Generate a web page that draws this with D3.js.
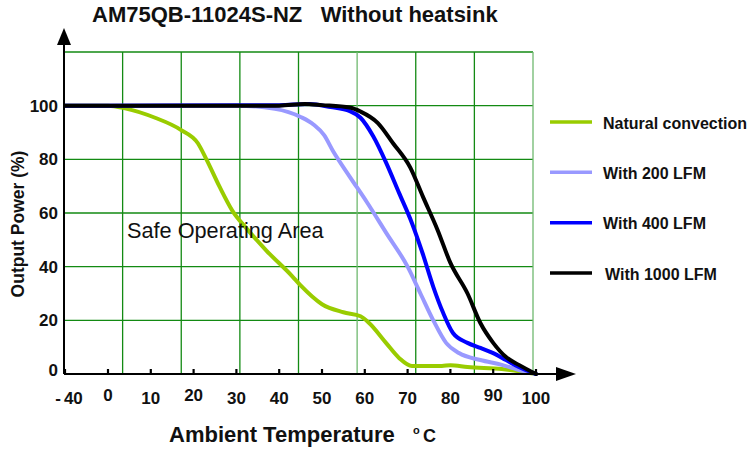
<!DOCTYPE html>
<html><head><meta charset="utf-8">
<script src="https://cdn.jsdelivr.net/npm/d3@7"></script>
<style>
body{margin:0;background:#fff}
svg{display:block;font-family:"Liberation Sans",Arial,Helvetica,sans-serif}
</style>
</head><body>
<svg id="chart" width="749" height="450"></svg>
<script>
const chartTitle = "AM75QB-11024S-NZ   Without heatsink";
const xTickValues = [-40, 0, 10, 20, 30, 40, 50, 60, 70, 80, 90, 100];
const xTickLabels = ["-40", "0", "10", "20", "30", "40", "50", "60", "70", "80", "90", "100"];
const yTickValues = [0, 20, 40, 60, 80, 100];
const yTickLabels = ["0", "20", "40", "60", "80", "100"];
const gridRowValues = [20, 40, 60, 80, 100, 120];
const gridColumnIndex = [1, 2, 3, 4, 5, 6, 7, 8];
const seriesNames = ["Natural convection", "With 200 LFM", "With 400 LFM", "With 1000 LFM"];
const seriesColors = ["#99cc00", "#9999ff", "#0000ff", "#000000"];

const naturalConvection = [[-40,100],[0,100],[4,99],[11,95.5],[17,91],[21,86],[23,80],[26,70],[29,61],[32.5,54],[37,46],[43,36.5],[45,33],[50,26],[55,23],[59,21.5],[61,19],[65,11.5],[68,6],[71,3],[78,3],[80,3.3],[84,2.6],[92,1.9],[100,0]];
const with200LFM = [[-40,100],[0,100],[30,100],[39,98.8],[45,95.8],[48,93],[50.5,89],[52.6,83],[56.5,73.5],[60.5,64],[65,52.6],[70,40],[73,30],[76,20],[79,11.6],[82,7.8],[87,5.2],[92,3.4],[96,1.5],[100,0]];
const with400LFM = [[-40,100],[0,100],[40,100.2],[47,100.6],[52,99.5],[56.5,98],[59,95.5],[62,88.5],[65,78.7],[68,67.5],[71,56.3],[73.5,45],[76,32.5],[78.3,22.8],[80.6,15.3],[84,11.6],[87,9.7],[90,7.8],[93,5.2],[96,2.6],[100,0]];
const with1000LFM = [[-40,100],[0,100],[40,100],[46,100.6],[50,100.2],[56.5,99.3],[59,97.8],[63,93.6],[66.6,86],[70.6,77],[73.6,66],[77,53.7],[80,41.4],[84,30],[87,19],[90,11.6],[93,6.3],[96,3.4],[100,0]];
const seriesData = [naturalConvection, with200LFM, with400LFM, with1000LFM];

const svg = d3.select("#chart");

// scales
const x = d3.scaleLinear().domain([-40, 0, 100]).range([65, 108, 536]);
const y = d3.scaleLinear().domain([0, 120]).range([374, 52]);
const gx = d3.scaleLinear().domain([0, 8]).range([64, 533]);
const legendY = d3.scaleLinear().domain([0, 3]).range([122, 273]);

// grid
const grid = svg.append("g").attr("stroke", "#138a13").attr("stroke-width", 1.3);
grid.selectAll("line.h").data(gridRowValues).join("line")
  .attr("x1", gx(0)).attr("x2", gx(8))
  .attr("y1", d => y(d)).attr("y2", d => y(d));
grid.selectAll("line.v").data(gridColumnIndex).join("line")
  .attr("x1", d => gx(d)).attr("x2", d => gx(d))
  .attr("y1", y(0)).attr("y2", y(120))
  .attr("stroke", d => (d === 5 || d === 8) ? "#6fb86f" : "#138a13");

// curves
const line = d3.line().x(d => x(d[0])).y(d => y(d[1])).curve(d3.curveMonotoneX);
svg.append("g").selectAll("path").data(seriesData).join("path")
  .attr("d", line)
  .attr("fill", "none")
  .attr("stroke", (d, i) => seriesColors[i])
  .attr("stroke-width", 4)
  .attr("stroke-linejoin", "round")
  .attr("stroke-linecap", "round");

// axes lines + arrows
const axes = svg.append("g");
axes.append("line").attr("x1", 64).attr("x2", 64).attr("y1", y(0)).attr("y2", 44)
  .attr("stroke", "#000").attr("stroke-width", 2);
axes.append("path").attr("d", "M64,28 L57,45 L71,45 Z").attr("fill", "#000");
axes.append("line").attr("x1", 64).attr("x2", 558).attr("y1", y(0)).attr("y2", y(0))
  .attr("stroke", "#000").attr("stroke-width", 2);
axes.append("path").attr("d", `M576,${y(0)} L556,${y(0)-7} L556,${y(0)+7} Z`).attr("fill", "#000");

// x ticks
axes.selectAll("line.xt").data(xTickValues).join("line")
  .attr("x1", d => x(d)).attr("x2", d => x(d))
  .attr("y1", y(0)).attr("y2", y(0) - 5)
  .attr("stroke", "#000").attr("stroke-width", 2.2);
const xl = axes.selectAll("text.xl").data(xTickValues).join("text")
  .attr("x", d => x(d) + (d === -40 ? 4 : 0))
  .attr("y", d => (d === 0 || d === 20 || d === 90) ? 401 : 404)
  .attr("text-anchor", "middle")
  .attr("font-size", 17).attr("font-weight", "bold").attr("fill", "#111");
xl.each(function(d, i) {
  const t = d3.select(this);
  const s = xTickLabels[i];
  if (s.startsWith("-")) {
    t.append("tspan").text("-");
    t.append("tspan").attr("dx", 3).text(s.slice(1));
  } else {
    t.text(s);
  }
});

// y labels
axes.selectAll("text.yl").data(yTickValues).join("text")
  .attr("x", 58)
  .attr("y", d => y(d) + (d === 0 ? -4 : 0))
  .attr("dy", "0.35em")
  .attr("text-anchor", "end")
  .attr("font-size", 17).attr("font-weight", "bold").attr("fill", "#111")
  .text((d, i) => yTickLabels[i]);

// title
svg.append("text").attr("x", 92).attr("y", 22)
  .attr("font-size", 22).attr("font-weight", "bold").attr("fill", "#111")
  .style("white-space", "pre")
  .text(chartTitle);

// axis titles
svg.append("text")
  .attr("transform", "translate(24,224) rotate(-90)")
  .attr("text-anchor", "middle")
  .attr("font-size", 17.5).attr("font-weight", "bold").attr("fill", "#111")
  .text("Output Power (%)");

const xt = svg.append("text").attr("x", 169).attr("y", 442)
  .attr("font-weight", "bold").attr("fill", "#111").style("white-space", "pre");
xt.append("tspan").attr("font-size", 22).text("Ambient Temperature");
xt.append("tspan").attr("x", 413).attr("y", 434).attr("font-size", 11).text("o");
xt.append("tspan").attr("x", 423).attr("y", 442).attr("font-size", 18).text("C");

// annotation
svg.append("text").attr("x", 127).attr("y", 238)
  .attr("font-size", 21.7).attr("fill", "#111")
  .text("Safe Operating Area");

// legend
const lg = svg.append("g");
lg.selectAll("line").data(seriesNames).join("line")
  .attr("x1", 550).attr("x2", 592)
  .attr("y1", (d, i) => legendY(i)).attr("y2", (d, i) => legendY(i))
  .attr("stroke", (d, i) => seriesColors[i]).attr("stroke-width", 3.5);
lg.selectAll("text").data(seriesNames).join("text")
  .attr("x", (d, i) => i === 3 ? 605 : 603)
  .attr("y", (d, i) => legendY(i) + 1)
  .attr("dy", "0.35em")
  .attr("font-size", 16).attr("font-weight", "bold").attr("fill", "#111")
  .text(d => d);
</script>
</body></html>
